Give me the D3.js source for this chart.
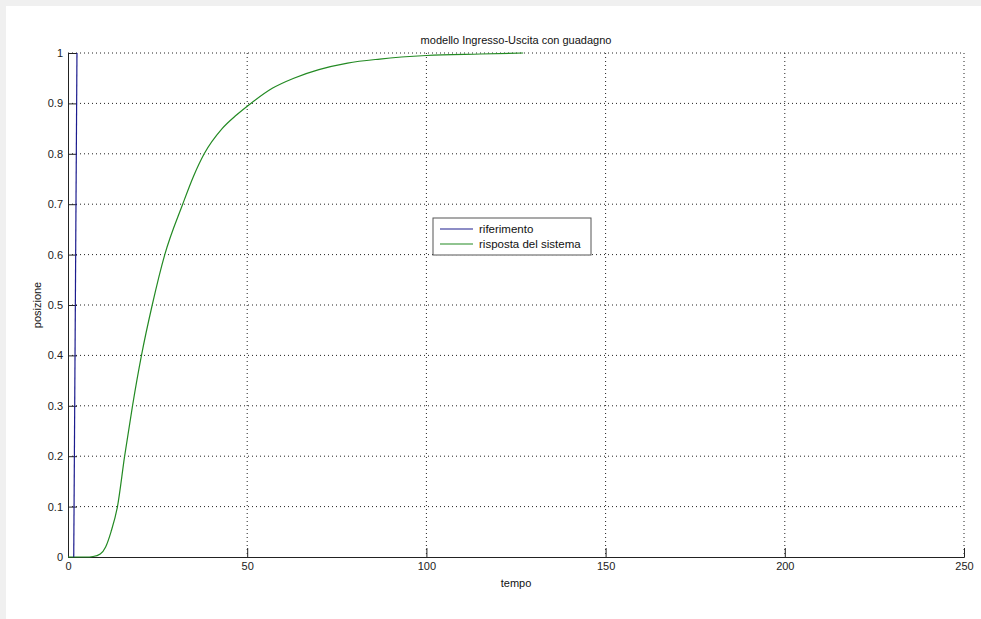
<!DOCTYPE html>
<html>
<head>
<meta charset="utf-8">
<script src="https://cdn.jsdelivr.net/npm/d3@7"></script>
<style>
  body { margin: 0; background: #fff; }
  svg { display: block; font-family: "Liberation Sans", Arial, sans-serif; }
  .grid line { stroke: #222; stroke-dasharray: 1 3; stroke-width: 1; }
  .tick text { fill: #222; font-size: 11px; }
</style>
</head>
<body>
<svg id="chart" width="981" height="619"></svg>
<script>
// reference step (blue)
const refTime = [1.6, 2.5];
const refValue = [0, 1];

// system response (green)
const respTime = [0, 5, 7, 9, 10.5, 12, 13.8, 15.8, 18, 20.5, 23.5, 27, 32, 35, 38, 43, 47, 51, 57, 63, 70, 78, 87, 100, 115, 127];
const respValue = [0, 0, 0.001, 0.006, 0.02, 0.05, 0.1, 0.2, 0.3, 0.4, 0.5, 0.6, 0.7, 0.755, 0.8, 0.85, 0.877, 0.9, 0.93, 0.95, 0.967, 0.98, 0.988, 0.995, 0.998, 1];

const xTicks = [0, 50, 100, 150, 200, 250];
const yTicks = [0, 0.1, 0.2, 0.3, 0.4, 0.5, 0.6, 0.7, 0.8, 0.9, 1];

const title = "modello Ingresso-Uscita con guadagno";
const xLabel = "tempo";
const yLabel = "posizione";
const legendNames = ["riferimento", "risposta del sistema"];
const colors = ["#1c1c8e", "#238a23"];

const svg = d3.select("#chart");
const margin = { left: 68, right: 17, top: 53, bottom: 62 };
const width = 981 - margin.left - margin.right;
const height = 619 - margin.top - margin.bottom;

// light gray window edges
svg.append("rect").attr("width", 981).attr("height", 6).attr("fill", "#f0f0f0");
svg.append("rect").attr("width", 6).attr("height", 619).attr("fill", "#f0f0f0");

const g = svg.append("g").attr("transform", `translate(${margin.left},${margin.top})`);

const x = d3.scaleLinear().domain([0, 250]).range([0, width]);
const y = d3.scaleLinear().domain([0, 1]).range([height, 0]);

// dotted grid
g.append("g").attr("class", "grid")
  .selectAll("line").data(xTicks.slice(1)).join("line")
  .attr("x1", d => x(d)).attr("x2", d => x(d))
  .attr("y1", 0).attr("y2", height);
g.append("g").attr("class", "grid")
  .selectAll("line").data(yTicks.slice(1)).join("line")
  .attr("x1", 0).attr("x2", width)
  .attr("y1", d => y(d)).attr("y2", d => y(d));

// axes with inward ticks
const xAxis = g.append("g").attr("transform", `translate(0,${height})`)
  .call(d3.axisBottom(x).tickValues(xTicks).tickFormat(d3.format("d")).tickSize(-9).tickPadding(5));
const yAxis = g.append("g")
  .call(d3.axisLeft(y).tickValues(yTicks).tickFormat(d => d === 0 || d === 1 ? d : d3.format(".1f")(d)).tickSize(-9).tickPadding(5));
[xAxis, yAxis].forEach(a => {
  a.select(".domain").attr("stroke", "#222");
  a.selectAll(".tick line").attr("stroke", "#222");
});

const line = d3.line().x(d => x(d[0])).y(d => y(d[1])).curve(d3.curveMonotoneX);

g.append("path")
  .datum(respTime.map((t, i) => [t, respValue[i]]))
  .attr("fill", "none").attr("stroke", colors[1]).attr("stroke-width", 1.2)
  .attr("d", line);

g.append("path")
  .datum(refTime.map((t, i) => [t, refValue[i]]))
  .attr("fill", "none").attr("stroke", colors[0]).attr("stroke-width", 1.2)
  .attr("d", d3.line().x(d => x(d[0])).y(d => y(d[1])));

// title and labels
svg.append("text").attr("x", margin.left + width / 2).attr("y", 44)
  .attr("text-anchor", "middle").attr("font-size", 11).attr("fill", "#111").text(title);
svg.append("text").attr("x", margin.left + width / 2).attr("y", 587)
  .attr("text-anchor", "middle").attr("font-size", 11).attr("fill", "#111").text(xLabel);
svg.append("text").attr("transform", `translate(41,${margin.top + height / 2}) rotate(-90)`)
  .attr("text-anchor", "middle").attr("font-size", 11).attr("fill", "#111").text(yLabel);

// legend
const lg = svg.append("g").attr("transform", "translate(433,218)");
lg.append("rect").attr("width", 158).attr("height", 37)
  .attr("fill", "#fff").attr("stroke", "#555");
legendNames.forEach((name, i) => {
  lg.append("line").attr("x1", 7).attr("x2", 40)
    .attr("y1", 11 + i * 15).attr("y2", 11 + i * 15)
    .attr("stroke", colors[i]).attr("stroke-width", 1.2);
  lg.append("text").attr("x", 46).attr("y", 15 + i * 15)
    .attr("font-size", 11.5).attr("fill", "#111").text(name);
});
</script>
</body>
</html>
